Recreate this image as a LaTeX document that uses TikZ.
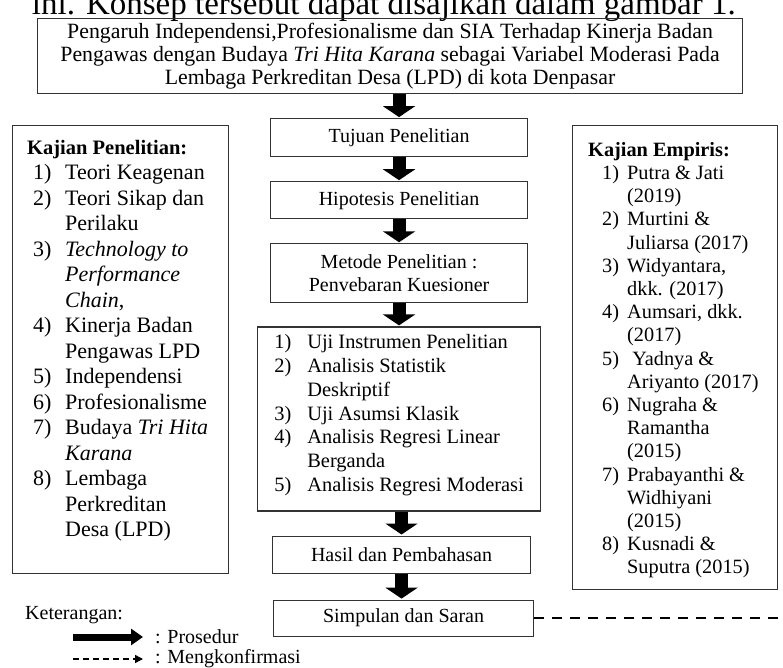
\documentclass[tikz,border=0pt]{standalone}
\usepackage{fontspec}
\setmainfont{Liberation Serif}
\usetikzlibrary{arrows.meta,positioning}
\newcommand{\itm}[3]{\makebox[#1][l]{#2}#3}

\begin{document}
\begin{tikzpicture}[
  x=1pt,y=1pt,
  node distance=24pt,
  box/.style={draw=black!80,line width=1.1pt,minimum width=257pt,align=center,inner sep=2pt,font=\fontsize{20}{22.5}\selectfont},
  panel/.style={draw=black!80,line width=1.1pt,inner sep=0pt},
  txt/.style={align=left,inner sep=0pt,anchor=north west},
  lbl/.style={anchor=west,inner sep=0pt,font=\fontsize{20}{22}\selectfont},
  flow/.style={line width=13pt,shorten >=1pt,-{Triangle[width=32pt,length=11pt]}},
  flowkey/.style={line width=7pt,-{Triangle[width=16pt,length=12pt]}},
  confirm/.style={dashed,line width=2.5pt,dash pattern=on 10pt off 8pt},
  confirmkey/.style={line width=1.4pt,dash pattern=on 6pt off 4pt,-{Triangle[width=8pt,length=8pt]}}
]
  \useasboundingbox (0,0) rectangle (783,-668);

  % page text cut off above the figure
  \node[anchor=base east,inner sep=0pt,font=\fontsize{33}{33}\selectfont] (intro) at (736,-15) {ini. Konsep tersebut dapat disajikan dalam gambar 1.};

  \node[box,minimum width=705pt,minimum height=75pt,anchor=north west,font=\fontsize{21.8}{23}\selectfont] (judul) at (37,-18)
    {Pengaruh Independensi,Profesionalisme dan SIA Terhadap Kinerja Badan\\
     Pengawas dengan Budaya \textit{Tri Hita Karana} sebagai Variabel Moderasi Pada\\
     Lembaga Perkreditan Desa (LPD) di kota Denpasar};

  % alur penelitian
  \node[box,minimum height=38pt,below=of judul,xshift=9pt] (tujuan) {Tujuan Penelitian};
  \node[box,minimum height=37pt,below=of tujuan] (hipotesis) {Hipotesis Penelitian};
  \node[box,minimum height=59pt,below=of hipotesis] (metode) {Metode Penelitian :\\Penvebaran Kuesioner};
  \node[box,minimum width=283pt,minimum height=184pt,below=23pt of metode,align=left,font=\fontsize{20.4}{23.8}\selectfont] (analisis)
    {\itm{33pt}{1)}{Uji Instrumen Penelitian}\\
     \itm{33pt}{2)}{Analisis Statistik}\\
     \hspace*{33pt}Deskriptif\\
     \itm{33pt}{3)}{Uji Asumsi Klasik}\\
     \itm{33pt}{4)}{Analisis Regresi Linear}\\
     \hspace*{33pt}Berganda\\
     \itm{33pt}{5)}{Analisis Regresi Moderasi}\rule[-12pt]{0pt}{1pt}};
  \node[box,minimum width=258pt,minimum height=37pt,below=of analisis,xshift=2.5pt] (hasil) {Hasil dan Pembahasan};
  \node[box,minimum width=260pt,minimum height=36pt,below=26pt of hasil,xshift=2pt] (simpulan) {Simpulan dan Saran};

  % kajian penelitian
  \node[panel,minimum width=216pt,minimum height=448pt,anchor=north west] (kajian) at (12,-125) {};
  \node[txt,font=\fontsize{22}{25.5}\selectfont] (kajiantxt) at (27,-140)
    {{\fontsize{20.5}{25.5}\selectfont\bfseries Kajian Penelitian:}\\
     \hspace*{6pt}\itm{32pt}{1)}{Teori Keagenan}\\
     \hspace*{6pt}\itm{32pt}{2)}{Teori Sikap dan}\\
     \hspace*{38pt}Perilaku\\
     \hspace*{6pt}\itm{32pt}{3)}{\textit{Technology to}}\\
     \hspace*{38pt}\textit{Performance}\\
     \hspace*{38pt}\textit{Chain},\\
     \hspace*{6pt}\itm{32pt}{4)}{Kinerja Badan}\\
     \hspace*{38pt}Pengawas LPD\\
     \hspace*{6pt}\itm{32pt}{5)}{Independensi}\\
     \hspace*{6pt}\itm{32pt}{6)}{Profesionalisme}\\
     \hspace*{6pt}\itm{32pt}{7)}{Budaya \textit{Tri Hita}}\\
     \hspace*{38pt}\textit{Karana}\\
     \hspace*{6pt}\itm{32pt}{8)}{Lembaga}\\
     \hspace*{38pt}Perkreditan\\
     \hspace*{38pt}Desa (LPD)};

  % kajian empiris
  \node[panel,minimum width=205pt,minimum height=464pt,anchor=north west] (empiris) at (572,-125) {};
  \node[txt,font=\fontsize{20.3}{23.2}\selectfont] (empiristxt) at (588,-142)
    {{\bfseries Kajian Empiris:}\\
     \hspace*{14pt}\itm{25pt}{1)}{Putra \& Jati}\\
     \hspace*{39pt}(2019)\\
     \hspace*{14pt}\itm{25pt}{2)}{Murtini \&}\\
     \hspace*{39pt}Juliarsa (2017)\\
     \hspace*{14pt}\itm{25pt}{3)}{Widyantara,}\\
     \hspace*{39pt}dkk. (2017)\\
     \hspace*{14pt}\itm{25pt}{4)}{Aumsari, dkk.}\\
     \hspace*{39pt}(2017)\\
     \hspace*{14pt}\itm{25pt}{5)}{\ Yadnya \&}\\
     \hspace*{39pt}Ariyanto (2017)\\
     \hspace*{14pt}\itm{25pt}{6)}{Nugraha \&}\\
     \hspace*{39pt}Ramantha\\
     \hspace*{39pt}(2015)\\
     \hspace*{14pt}\itm{25pt}{7)}{Prabayanthi \&}\\
     \hspace*{39pt}Widhiyani\\
     \hspace*{39pt}(2015)\\
     \hspace*{14pt}\itm{25pt}{8)}{Kusnadi \&}\\
     \hspace*{39pt}Suputra (2015)};

  \draw[flow] (judul.south -| tujuan.north) -- (tujuan.north);
  \draw[flow] (tujuan.south) -- (hipotesis.north);
  \draw[flow] (hipotesis.south) -- (metode.north);
  \draw[flow] (metode.south) -- (analisis.north);
  \draw[flow] (analisis.south -| hasil.north) -- (hasil.north);
  \draw[flow] (hasil.south) -- (hasil.south |- simpulan.north);

  \coordinate (tepi) at (simpulan.east -| 790,0);
  \draw[confirm] (simpulan.east) -- (tepi);

  % keterangan
  \node[lbl] (ket) at (25,-615) {Keterangan:};
  \coordinate (p1) at (73,-637);
  \coordinate (p2) at (143,-637);
  \draw[flowkey] (p1) -- (p2);
  \node[lbl] (prosedur) at (155,-637) {: Prosedur};
  \coordinate (k1) at (73,-659);
  \coordinate (k2) at (143,-659);
  \draw[confirmkey] (k1) -- (k2);
  \node[lbl] (konfirmasi) at (155,-659) {: Mengkonfirmasi};
\end{tikzpicture}
\end{document}
